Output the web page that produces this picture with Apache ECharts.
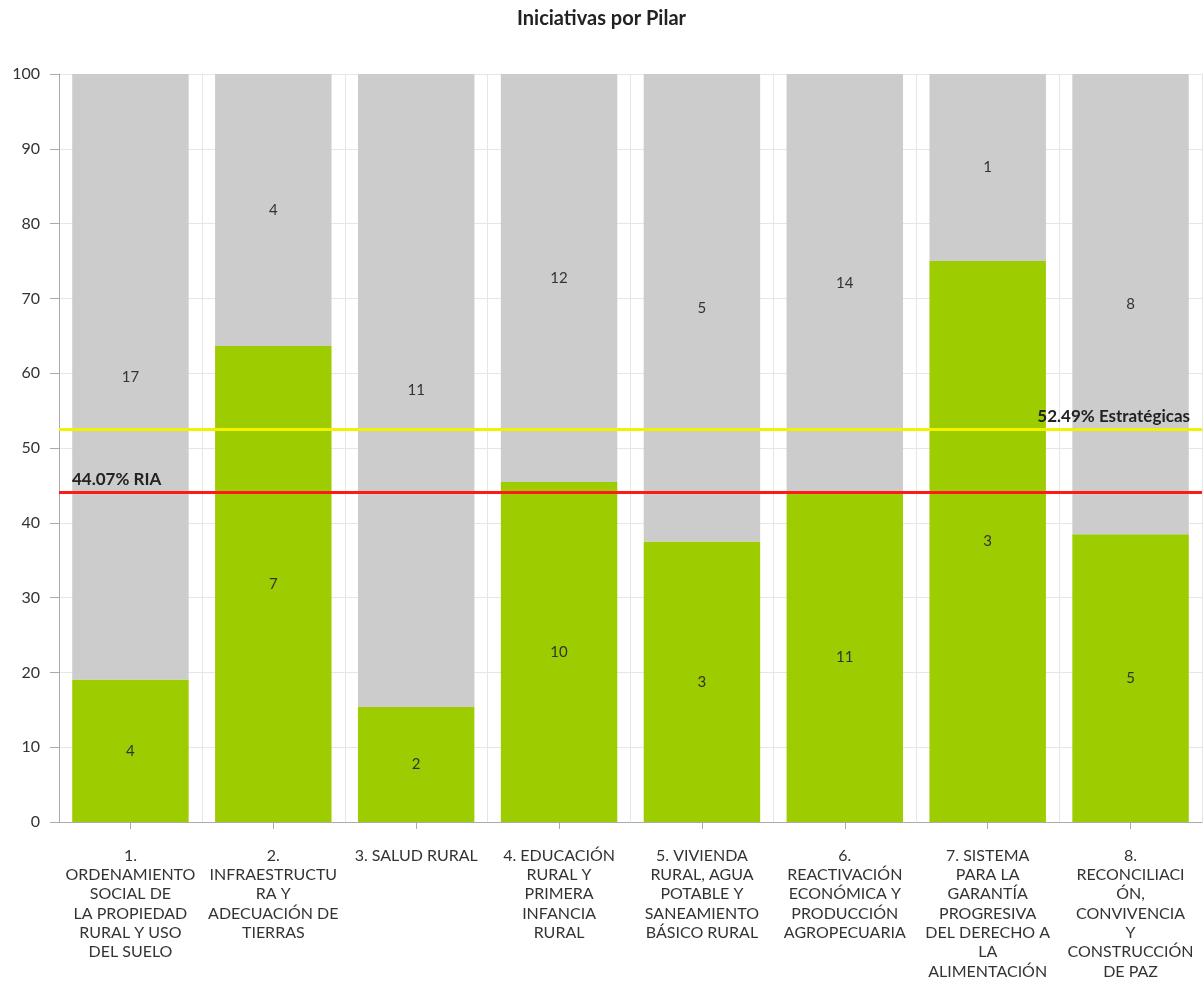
<!DOCTYPE html>
<html>
<head>
<meta charset="utf-8">
<script src="https://cdn.jsdelivr.net/npm/echarts@6/dist/echarts.min.js"></script>
<style>
html,body{margin:0;padding:0;background:#fff;}
#chart{width:1203px;height:982px;}
</style>
</head>
<body>
<div id="chart"></div>
<script>
const categories = [
  "1.\nORDENAMIENTO\nSOCIAL DE\nLA PROPIEDAD\nRURAL Y USO\nDEL SUELO",
  "2.\nINFRAESTRUCTU\nRA Y\nADECUACIÓN DE\nTIERRAS",
  "3. SALUD RURAL",
  "4. EDUCACIÓN\nRURAL Y\nPRIMERA\nINFANCIA\nRURAL",
  "5. VIVIENDA\nRURAL, AGUA\nPOTABLE Y\nSANEAMIENTO\nBÁSICO RURAL",
  "6.\nREACTIVACIÓN\nECONÓMICA Y\nPRODUCCIÓN\nAGROPECUARIA",
  "7. SISTEMA\nPARA LA\nGARANTÍA\nPROGRESIVA\nDEL DERECHO A\nLA\nALIMENTACIÓN",
  "8.\nRECONCILIACI\nÓN,\nCONVIVENCIA\nY\nCONSTRUCCIÓN\nDE PAZ"
];
const greenCounts = [4, 7, 2, 10, 3, 11, 3, 5];
const grayCounts = [17, 4, 11, 12, 5, 14, 1, 8];
const riaValue = 44.07;
const estrategicasValue = 52.49;
const riaLabel = "44.07% RIA";
const estrategicasLabel = "52.49% Estratégicas";

const totals = greenCounts.map((g, i) => g + grayCounts[i]);
const greenPct = greenCounts.map((g, i) => ({ value: g / totals[i] * 100, count: g }));
const grayPct = grayCounts.map((g, i) => ({ value: g / totals[i] * 100, count: g }));

const FONT = "Lato, 'Noto Sans', sans-serif";
const chart = echarts.init(document.getElementById('chart'), null, { renderer: 'canvas' });
const segLabel = {
  show: true, position: 'inside', color: '#333', fontSize: 15, fontFamily: FONT,
  formatter: p => p.data.count
};
chart.setOption({
  animation: false,
  title: {
    text: 'Iniciativas por Pilar', left: 'center', top: 4,
    textStyle: { fontSize: 20, fontWeight: 'bold', color: '#222', fontFamily: FONT }
  },
  grid: { left: 59, right: 1, top: 74, bottom: 160, containLabel: false, outerBoundsMode: 'none' },
  xAxis: {
    type: 'category', data: categories,
    axisLine: { show: true, lineStyle: { color: '#aaa', width: 1 } },
    axisTick: { show: true, alignWithLabel: true, length: 7, lineStyle: { color: '#aaa' } },
    axisLabel: { interval: 0, margin: 24, color: '#333', fontSize: 16, lineHeight: 19.3, fontFamily: FONT },
    splitLine: { show: true, lineStyle: { color: '#e6e6e6', width: 1 } }
  },
  yAxis: {
    type: 'value', min: 0, max: 100, interval: 10,
    axisLine: { show: true, lineStyle: { color: '#aaa', width: 1 } },
    axisTick: { show: true, length: 9, lineStyle: { color: '#aaa' } },
    axisLabel: { margin: 19, color: '#333', fontSize: 16, fontFamily: FONT },
    splitLine: { show: true, lineStyle: { color: '#e6e6e6', width: 1 } }
  },
  series: [
    {
      name: 'green', type: 'bar', stack: 'total', data: greenPct,
      barCategoryGap: '18.5%',
      itemStyle: { color: '#9dcc00' },
      label: segLabel,
      markLine: {
        silent: true, symbol: 'none',
        data: [
          {
            yAxis: riaValue,
            lineStyle: { color: '#ff1a1a', width: 3, type: 'solid' },
            label: { show: true, position: 'insideStartTop', formatter: riaLabel, color: '#222', fontSize: 17, fontWeight: 'bold', fontFamily: FONT, distance: [13, 4] }
          },
          {
            yAxis: estrategicasValue,
            lineStyle: { color: '#f2f200', width: 3, type: 'solid' },
            label: { show: true, position: 'insideEndTop', formatter: estrategicasLabel, color: '#222', fontSize: 17, fontWeight: 'bold', fontFamily: FONT, distance: [12, 4] }
          }
        ]
      }
    },
    {
      name: 'gray', type: 'bar', stack: 'total', data: grayPct,
      barCategoryGap: '18.5%',
      itemStyle: { color: '#cccccc' },
      label: segLabel
    }
  ]
});
</script>
</body>
</html>
